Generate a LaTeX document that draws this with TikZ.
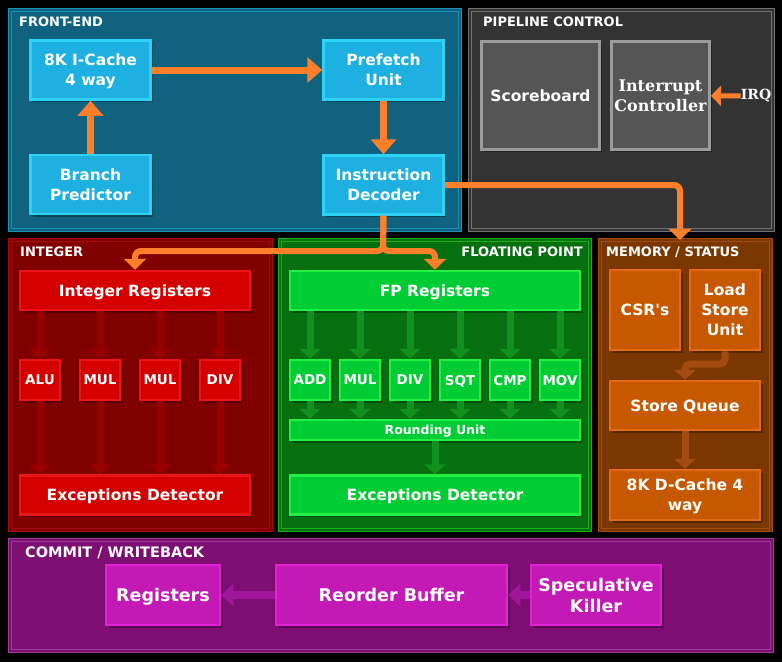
\documentclass[tikz,border=0pt]{standalone}
\usepackage{fontspec}
\setmainfont{DejaVu Sans}[Ligatures=TeXOff]
\newfontfamily\irqfont{DejaVu Serif}
\usepackage{tikz}
\usetikzlibrary{arrows.meta,positioning,shadows}

\definecolor{feFill}{HTML}{10627E}
\definecolor{feLine}{HTML}{1A92B5}
\definecolor{cyBox}{HTML}{1DB0E0}
\definecolor{cyLine}{HTML}{2DD2F5}
\definecolor{orangeA}{HTML}{FF7F2A}
\definecolor{pcFill}{HTML}{333333}
\definecolor{pcLine}{HTML}{707070}
\definecolor{gBox}{HTML}{555555}
\definecolor{gLine}{HTML}{9C9C9C}
\definecolor{inFill}{HTML}{800000}
\definecolor{inLine}{HTML}{A80808}
\definecolor{rBox}{HTML}{D40000}
\definecolor{rLine}{HTML}{EA1616}
\definecolor{rArrow}{HTML}{980000}
\definecolor{fpFill}{HTML}{067010}
\definecolor{fpLine}{HTML}{18B018}
\definecolor{grBox}{HTML}{00CC33}
\definecolor{grLine}{HTML}{22EE44}
\definecolor{grArrow}{HTML}{10901C}
\definecolor{mmFill}{HTML}{7A3700}
\definecolor{mmLine}{HTML}{A64A0A}
\definecolor{oBox}{HTML}{C65800}
\definecolor{oLine}{HTML}{E26A12}
\definecolor{oArrow}{HTML}{A24C12}
\definecolor{cmFill}{HTML}{7D0F72}
\definecolor{cmLine}{HTML}{A03A98}
\definecolor{pBox}{HTML}{C31AB6}
\definecolor{pLine}{HTML}{E022D2}
\definecolor{pArrow}{HTML}{A0169A}

\newcommand{\titlefont}{\fontsize{13}{15}\selectfont\bfseries}
\newcommand{\boxfont}{\fontsize{15.5}{20}\selectfont\bfseries}
\newcommand{\unitfont}{\fontsize{13.5}{16}\selectfont\bfseries}
\newcommand{\smallfont}{\fontsize{12.5}{14}\selectfont\bfseries}
\newcommand{\cmfont}{\fontsize{17.5}{21}\selectfont\bfseries}

\begin{document}
\begin{tikzpicture}[
    x=1pt, y=-1pt,
    panel/.style n args={2}{draw=#1, fill=#2, double=#2, double distance=1.5pt, line width=0.8pt, inner sep=0pt},
    title/.style={text=white, font=\titlefont, inner sep=0pt},
    cbox/.style n args={2}{draw=#1, fill=#2, line width=2.5pt, text=white, align=center, inner sep=0pt, text depth=0pt,
        drop shadow={shadow xshift=2.5pt, shadow yshift=-2.5pt, fill=black, opacity=0.3}},
    febox/.style={cbox={cyLine}{cyBox}, font=\boxfont, minimum width=120pt, minimum height=59pt},
    pcbox/.style={cbox={gLine}{gBox}, line width=3pt, minimum height=108pt},
    unit/.style={minimum width=40pt, minimum height=40pt, font=\unitfont},
    wide/.style={minimum width=230pt, minimum height=39pt, font=\boxfont},
    bigarrow/.style={draw=orangeA, line width=7pt, -{Triangle[length=15pt,width=25pt]}},
    route/.style={draw=orangeA, line width=6pt, rounded corners=6pt, -{Triangle[length=11pt,width=22pt]}},
    flow/.style={draw=#1, line width=7pt, -{Triangle[length=10pt,width=21pt]}}
]
\fill[black] (0,0) rectangle (782,662);
\useasboundingbox (0,0) rectangle (782,662);

% panels
\node[panel={feLine}{feFill}, minimum width=450pt, minimum height=220pt] (frontend) at (235,120) {};
\node[panel={pcLine}{pcFill}, minimum width=303pt, minimum height=220pt] (pipeline) at (621.5,120) {};
\node[panel={inLine}{inFill}, minimum width=261pt, minimum height=290pt] (integer) at (140.5,385) {};
\node[panel={fpLine}{fpFill}, minimum width=310pt, minimum height=290pt] (floating) at (435,385) {};
\node[panel={mmLine}{mmFill}, minimum width=171pt, minimum height=290pt] (memory) at (685.5,385) {};
\node[panel={cmLine}{cmFill}, minimum width=762pt, minimum height=111pt] (commit) at (391,595.5) {};

\node[title, anchor=base west] (tfe) at (19,26) {FRONT-END};
\node[title, anchor=base west] (tpc) at (483,26) {PIPELINE CONTROL};
\node[title, anchor=base west] (tin) at (20,256) {INTEGER};
\node[title, anchor=base east] (tfp) at (583,256) {FLOATING POINT};
\node[title, anchor=base west] (tmm) at (606,256) {MEMORY / STATUS};
\node[title, anchor=base west, font=\fontsize{14.5}{16}\selectfont\bfseries] (tcm) at (25,557) {COMMIT / WRITEBACK};

% front-end
\node[febox] (icache) at (90.5,70) {8K I-Cache\\4 way};
\node[febox] (prefetch) at (383.5,70) {Prefetch\\Unit};
\node[febox] (branch) at (90.5,184.5) {Branch\\Predictor};
\node[febox] (decoder) at (383.5,185) {Instruction\\Decoder};

% pipeline control
\node[pcbox, minimum width=118pt, font=\boxfont] (scoreboard) at (540.5,95.5) {Scoreboard};
\node[pcbox, minimum width=98pt, font=\irqfont\fontsize{16}{20.5}\selectfont\bfseries] (intc) at (660.5,95.5) {Interrupt\\Controller};
\node[text=white, inner sep=0pt, font=\irqfont\fontsize{14}{16}\selectfont\bfseries] (irq) at (756,96) {IRQ};

% integer
\node[cbox={rLine}{rBox}, wide] (intreg) at (135,290.5) {Integer Registers};
\node[cbox={rLine}{rBox}, unit] (alu) at (40,380) {ALU};
\node[cbox={rLine}{rBox}, unit] (imul) at (100,380) {MUL};
\node[cbox={rLine}{rBox}, unit] (imulb) at (160,380) {MUL};
\node[cbox={rLine}{rBox}, unit] (idiv) at (220,380) {DIV};
\node[cbox={rLine}{rBox}, wide] (intexc) at (135,495) {Exceptions Detector};

% floating point
\node[cbox={grLine}{grBox}, wide, minimum width=290pt] (fpreg) at (435,290.5) {FP Registers};
\node[cbox={grLine}{grBox}, unit] (fadd) at (310,380) {ADD};
\node[cbox={grLine}{grBox}, unit] (fmul) at (360,380) {MUL};
\node[cbox={grLine}{grBox}, unit] (fdiv) at (410,380) {DIV};
\node[cbox={grLine}{grBox}, unit] (fsqt) at (460,380) {SQT};
\node[cbox={grLine}{grBox}, unit] (fcmp) at (510,380) {CMP};
\node[cbox={grLine}{grBox}, unit] (fmov) at (560,380) {MOV};
\node[cbox={grLine}{grBox}, minimum width=290pt, minimum height=20pt, font=\smallfont] (round) at (435,430) {Rounding Unit};
\node[cbox={grLine}{grBox}, wide, minimum width=290pt] (fpexc) at (435,495) {Exceptions Detector};

% memory / status
\node[cbox={oLine}{oBox}, minimum width=70pt, minimum height=80pt, font=\boxfont] (csr) at (645,310) {CSR's};
\node[cbox={oLine}{oBox}, minimum width=70pt, minimum height=80pt, font=\boxfont] (lsu) at (725,310) {Load\\Store\\Unit};
\node[cbox={oLine}{oBox}, minimum width=150pt, minimum height=49pt, font=\boxfont] (sq) at (685,405.5) {Store Queue};
\node[cbox={oLine}{oBox}, minimum width=150pt, minimum height=50pt, font=\boxfont] (dcache) at (685,495) {8K D-Cache 4\\way};

% commit / writeback
\node[cbox={pLine}{pBox}, minimum width=114pt, minimum height=60pt, font=\cmfont] (regs) at (163,595) {Registers};
\node[cbox={pLine}{pBox}, minimum width=231pt, minimum height=60pt, font=\cmfont] (rob) at (391.5,595) {Reorder Buffer};
\node[cbox={pLine}{pBox}, minimum width=130pt, minimum height=60pt, font=\cmfont] (killer) at (596,595) {Speculative\\Killer};

% orange connectors
\draw[bigarrow] (icache) -- (prefetch);
\draw[bigarrow] (branch) -- (icache);
\draw[bigarrow] (prefetch) -- (decoder);
\draw[route, line width=5pt, -{Triangle[length=10pt,width=20pt]}] (irq) -- (intc);
\coordinate (memin) at (680,240);
\draw[route] (decoder.east) -| (memin);
\draw[route] (decoder.south) -- (383,251) -| (intreg.north);
\draw[route] (decoder.south) -- (383,251) -| (fpreg.north);

% integer flow
\foreach \u in {alu,imul,imulb,idiv} {
    \draw[flow=rArrow] (\u |- intreg.south) -- (\u.north);
    \draw[flow=rArrow] (\u.south) -- (\u |- intexc.north);
}
% fp flow
\foreach \u in {fadd,fmul,fdiv,fsqt,fcmp,fmov} {
    \draw[flow=grArrow] (\u |- fpreg.south) -- (\u.north);
    \draw[flow=grArrow] (\u.south) -- (\u |- round.north);
}
\draw[flow=grArrow] (round) -- (fpexc);

% memory flow
\draw[flow=oArrow, rounded corners=5pt] (lsu.south) -- (725,364) -| (sq.north);
\draw[flow=oArrow] (sq) -- (dcache);

% commit flow
\draw[flow=pArrow, line width=8pt, -{Triangle[length=12pt,width=22pt]}] (rob) -- (regs);
\draw[flow=pArrow, line width=8pt, -{Triangle[length=12pt,width=22pt]}] (killer) -- (rob);
\end{tikzpicture}
\end{document}
